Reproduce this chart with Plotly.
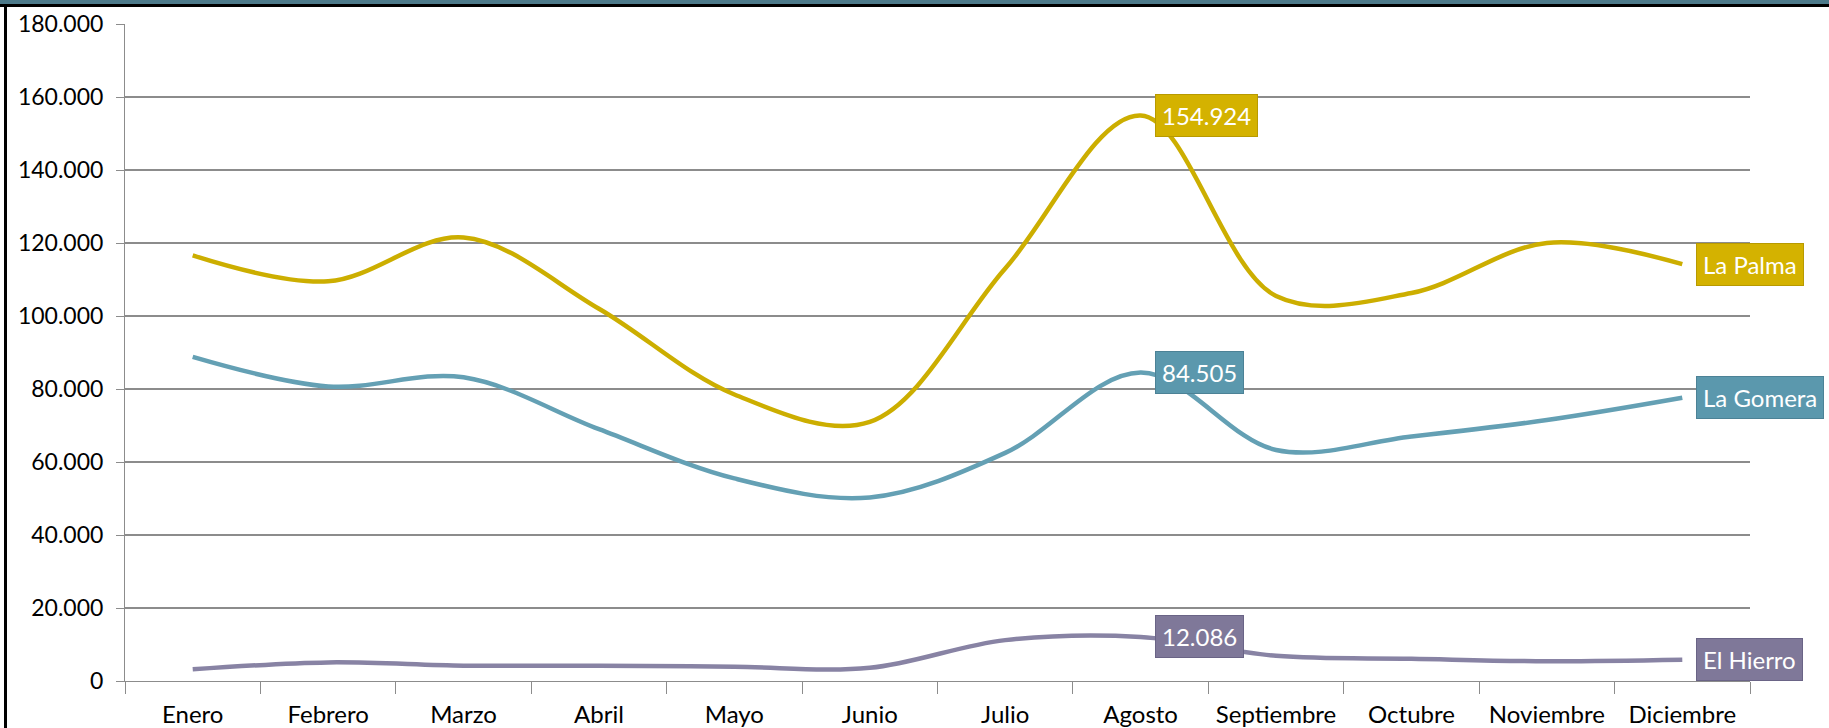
import plotly.graph_objects as go

meses = ['Enero', 'Febrero', 'Marzo', 'Abril', 'Mayo', 'Junio', 'Julio',
         'Agosto', 'Septiembre', 'Octubre', 'Noviembre', 'Diciembre']

la_palma = [116600, 109500, 121500, 102000, 78500, 71000, 113000,
            154924, 105500, 106300, 120000, 114200]
la_gomera = [88800, 80700, 83200, 69000, 55500, 50300, 62500,
             84505, 63300, 67000, 71500, 77600]
el_hierro = [3200, 5100, 4200, 4200, 3900, 3600, 11200,
             12086, 6900, 6100, 5400, 5800]

series = [
    ('La Palma', la_palma, '#CCAE00', '#D4B200', '#B89A00'),
    ('La Gomera', la_gomera, '#64A0B4', '#5B98AD', '#4C8296'),
    ('El Hierro', el_hierro, '#8883A4', '#7F7899', '#6A6486'),
]

W, H = 1829, 728
L, R, T, B = 125, 79, 24, 47
pw, ph = W - L - R, H - T - B


def fmt(v):
    return f'{v:,}'.replace(',', '.')


def etiqueta(x, y, text, box, edge):
    return dict(
        x=x, y=y, xref='x', yref='y', text=text,
        showarrow=False, xanchor='left', yanchor='middle', xshift=14,
        bgcolor=box, bordercolor=edge, borderwidth=1, borderpad=6,
        font=dict(color='white', size=24)
    )


fig = go.Figure()
annotations = []
for name, vals, color, box, edge in series:
    fig.add_trace(go.Scatter(
        x=meses, y=vals, mode='lines', name=name,
        line=dict(color=color, width=4.5, shape='spline', smoothing=1),
        showlegend=False, hoverinfo='skip'
    ))
    # etiqueta del pico (Agosto) y nombre de la serie al final
    annotations.append(etiqueta('Agosto', vals[7], fmt(vals[7]), box, edge))
    annotations.append(etiqueta('Diciembre', vals[-1], name, box, edge))

shapes = [
    # banda superior
    dict(type='rect', xref='paper', yref='paper',
         x0=-L / pw, x1=1 + R / pw, y0=1 + (T - 4) / ph, y1=1 + T / ph,
         fillcolor='#4D7A8A', line=dict(width=0), layer='above'),
    dict(type='rect', xref='paper', yref='paper',
         x0=-L / pw, x1=1 + R / pw, y0=1 + (T - 7) / ph, y1=1 + (T - 4) / ph,
         fillcolor='black', line=dict(width=0), layer='above'),
    # borde izquierdo
    dict(type='rect', xref='paper', yref='paper',
         x0=(4 - L) / pw, x1=(7 - L) / pw, y0=-B / ph, y1=1 + (T - 4) / ph,
         fillcolor='black', line=dict(width=0), layer='above'),
]

fig.update_layout(
    width=W, height=H,
    margin=dict(l=L, r=R, t=T, b=B, autoexpand=False),
    paper_bgcolor='white', plot_bgcolor='white',
    font=dict(family='Lato, Open Sans, sans-serif', size=22, color='black'),
    annotations=annotations,
    shapes=shapes,
    xaxis=dict(
        type='category', range=[-0.5, 11.5], automargin=False,
        showgrid=False, showline=True, linecolor='#8C8C8C', linewidth=1,
        ticks='outside', tickson='boundaries', ticklen=12,
        tickcolor='#8C8C8C', tickfont=dict(size=24),
        ticklabelstandoff=12
    ),
    yaxis=dict(
        range=[0, 180000], dtick=20000, tickformat=',d', automargin=False,
        showgrid=True, gridcolor='#8C8C8C', gridwidth=1.5,
        showline=True, linecolor='#8C8C8C', linewidth=1,
        ticks='outside', ticklen=8, tickcolor='#8C8C8C',
        tickfont=dict(size=23), zeroline=False,
        ticklabelstandoff=8
    ),
    separators=',.',
)

# quitar el margen del body para que la figura ocupe la ventana entera
fig.write_html("out.html", config={'displayModeBar': False},
               post_script="document.body.style.margin='0';")
